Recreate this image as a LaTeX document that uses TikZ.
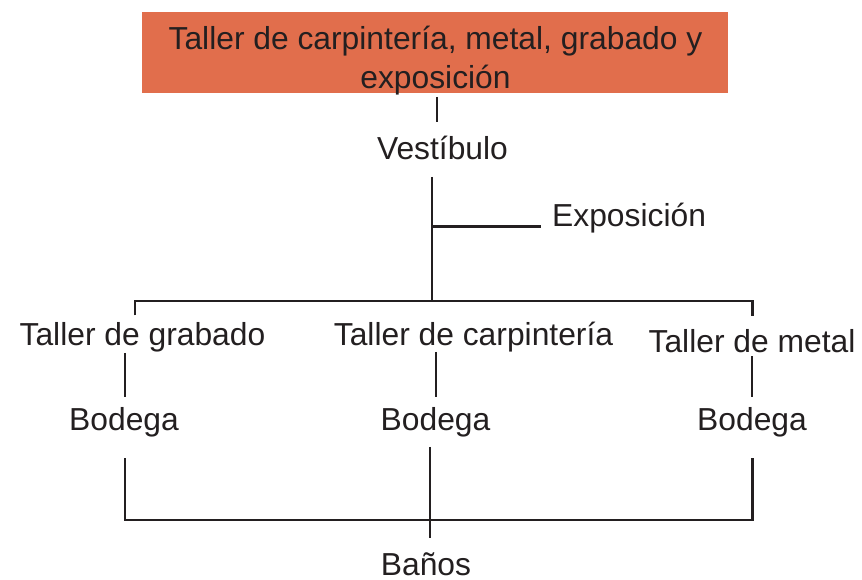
\documentclass[tikz,border=0pt]{standalone}
\usepackage{fontspec}
\setmainfont{Liberation Sans}
\usetikzlibrary{calc}
\definecolor{ink}{RGB}{35,31,32}
\definecolor{boxorange}{RGB}{225,110,76}
\tikzset{
  lbl/.style={inner sep=0pt, anchor=base, text=ink, font=\fontsize{31.8}{38}\selectfont,
              text height=22.5pt, text depth=6.5pt},
  titletxt/.style={inner sep=0pt, anchor=base, text=ink, align=center,
              font=\fontsize{31.8}{38.3}\selectfont},
  titlebox/.style={fill=boxorange, draw=none, inner sep=0pt,
              minimum width=586pt, minimum height=81pt},
  conn/.style={draw=ink, line width=2.9pt}
}
\begin{document}
\begin{tikzpicture}[x=1pt,y=-1pt]
\useasboundingbox (0,0) rectangle (862,580);
% title
\node[titlebox] (title) at (435,52.2) {};
\node[titletxt] (titletext) at (435.5,88.3) {Taller de carpintería, metal, grabado y\\exposición};
% labels
\node[lbl] (vest) at (442.5,160) {Vestíbulo};
\node[lbl, anchor=base west] (expo) at (552,226.7) {Exposición};
\node[lbl] (tg) at (142.5,345) {Taller de grabado};
\node[lbl] (tc) at (473.5,345) {Taller de carpintería};
\node[lbl] (tm) at (752,352.7) {Taller de metal};
\node[lbl] (b1) at (124,430) {Bodega};
\node[lbl] (b2) at (435.5,430) {Bodega};
\node[lbl] (b3) at (752,430) {Bodega};
\node[lbl] (banos) at (426,575) {Baños};
% junctions
\coordinate (bus) at (432,301);
\coordinate (ej) at (432,226.7);
\coordinate (low) at (430,520);
% connectors
\draw[conn] ($(title.south)+(2,4)$) -- ($(vest.north)+(-5.5,-14.8)$);
\draw[conn] ($(vest.south)+(-10.5,10.2)$) -- (bus);
\draw[conn] (ej) -- ($(expo.base west)+(-11,0)$);
\draw[conn] ($(tg.north)+(-7.5,-7)$) |- (bus) -| ($(tm.north)+(0.3,-14.2)$);
\draw[conn] ($(tg.south -| b1)+(1,1.2)$) -- ($(b1.north)+(1,-10.8)$);
\draw[conn] ($(tc.south -| b2)+(0.5,0.2)$) -- ($(b2.north)+(0.5,-10.8)$);
\draw[conn] ($(tm.south)+(0,-3.2)$) -- ($(b3.north)+(0,-10.8)$);
\draw[conn] ($(b1.south)+(1,21.5)$) |- (low) -| ($(b3.south)+(0.3,21.5)$);
\draw[conn] ($(b2.south)+(-5.5,10.2)$) -- ($(banos.north)+(4,-14.5)$);
\end{tikzpicture}
\end{document}
